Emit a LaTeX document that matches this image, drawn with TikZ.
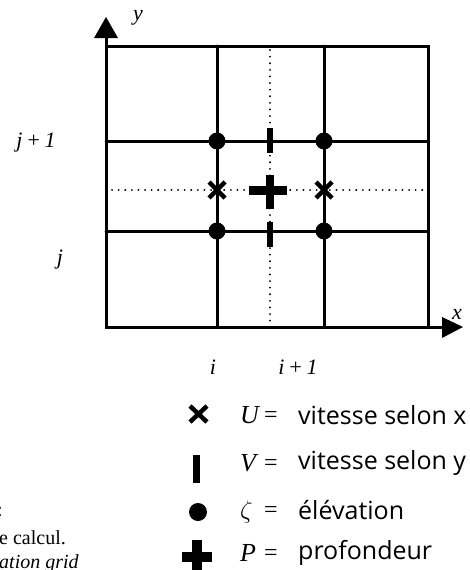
\documentclass[tikz,border=0pt]{standalone}
\usepackage{fontspec}
\setmainfont{Liberation Serif}
\newfontfamily\legendfont{Open Sans}
\begin{document}
\begin{tikzpicture}[x=1pt,y=-1pt,
  gridline/.style={line width=3pt, line cap=round},
  dotline/.style={line width=2pt, line cap=round, dash pattern=on 0.1pt off 6.5pt},
  ustroke/.style={line width=4.5pt},
  lbl/.style={inner sep=0pt, font=\fontsize{22}{26}\selectfont\itshape},
  sym/.style={inner sep=0pt, anchor=west, font=\fontsize{26}{30}\selectfont\itshape},
  eqs/.style={inner sep=0pt, anchor=west, font=\fontsize{24}{28}\selectfont},
  legtxt/.style={inner sep=0pt, anchor=west, font=\fontsize{25}{30}\legendfont},
  capt/.style={inner sep=0pt, anchor=west, font=\fontsize{20}{24}\selectfont}]
\useasboundingbox (0,0) rectangle (469,570);
\clip (0,0) rectangle (469,570);
% dotted centre lines
\draw[dotline] (270,50) -- (270,324);
\draw[dotline] (112,190) -- (425,190);
% grid
\draw[gridline] (106,46) rectangle (428,327);
\draw[gridline] (217,46) -- (217,327);
\draw[gridline] (324,46) -- (324,327);
\draw[gridline] (106,141) -- (428,141);
\draw[gridline] (106,231) -- (428,231);
% axes
\draw[line width=3pt] (106,46) -- (106,36);
\fill (106,17) -- (94,38) -- (118,38) -- cycle;
\draw[line width=3pt] (428,327) -- (444,327);
\fill (463,327) -- (442,317) -- (442,338) -- cycle;
\node[lbl] (ly) at (138,18) {y};
\node[lbl] (lx) at (457,314) {x};
% index labels
\node[lbl] (lj1) at (36,143) {j\,+\,1};
\node[lbl] (lj) at (60,260) {j};
\node[lbl] (li) at (213,367) {i};
\node[lbl] (li1) at (298,367) {i\,+\,1};
% elevation points
\foreach \p in {(217,141),(324,141),(217,231),(324,231)} \fill \p circle (8.5);
% V bars
\fill (267,128) rectangle (273,153);
\fill (267,222) rectangle (273,247);
% U crosses
\foreach \cx in {217,324} {
  \draw[ustroke] (\cx-8,182) -- (\cx+8,198);
  \draw[ustroke] (\cx-8,198) -- (\cx+8,182);
}
% P plus
\fill (249,186) rectangle (287,195);
\fill (266,175) rectangle (274,209);
% legend symbols
\draw[ustroke] (190,406) -- (207,422);
\draw[ustroke] (190,422) -- (207,406);
\fill (193,455) rectangle (200,483);
\fill (198,512) circle (9);
\fill (182,552) rectangle (212,562);
\fill (192,540) rectangle (202,575);
% legend texts
\node[sym] (su) at (240,415) {U};
\node[eqs] (eu) at (264,417) {=};
\node[legtxt] (tu) at (298,415) {vitesse selon x};
\node[sym] (sv) at (240,463) {V};
\node[eqs] (ev) at (264,465) {=};
\node[legtxt] (tv) at (298,463) {vitesse selon y};
\node[sym] (sz) at (240,512) {$\zeta$};
\node[eqs] (ez) at (264,512) {=};
\node[legtxt] (tz) at (298,510) {élévation};
\node[sym] (sp) at (240,553) {P};
\node[eqs] (ep) at (264,555) {=};
\node[legtxt] (tp) at (298,553) {profondeur};
% caption fragments
\node[capt] (c1) at (-3,512) {:};
\node[capt] (c2) at (-1,538) {e calcul.};
\node[capt, font=\fontsize{20}{24}\selectfont\itshape] (c3) at (-1,564) {ation grid};
\end{tikzpicture}
\end{document}
